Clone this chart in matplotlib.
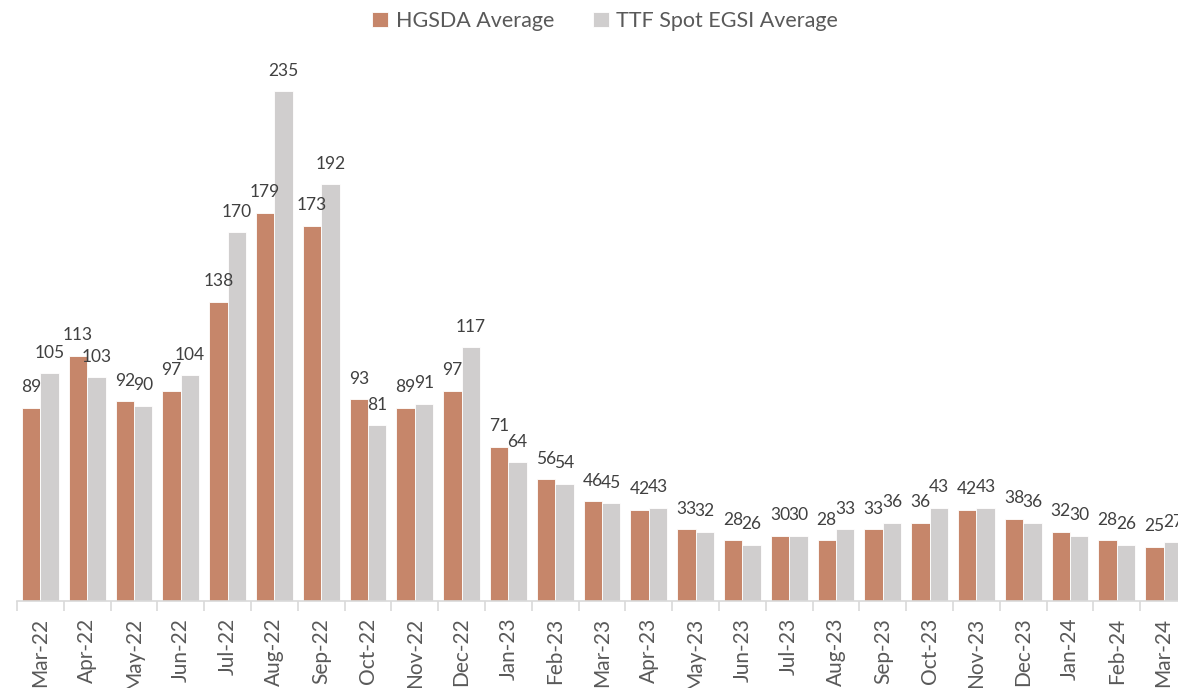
import numpy as np
import matplotlib
matplotlib.use("Agg")
import matplotlib.pyplot as plt

plt.rcParams['font.family'] = ['Lato', 'DejaVu Sans']

# データ
months = ['Mar-22', 'Apr-22', 'May-22', 'Jun-22', 'Jul-22', 'Aug-22', 'Sep-22',
          'Oct-22', 'Nov-22', 'Dec-22', 'Jan-23', 'Feb-23', 'Mar-23', 'Apr-23',
          'May-23', 'Jun-23', 'Jul-23', 'Aug-23', 'Sep-23', 'Oct-23', 'Nov-23',
          'Dec-23', 'Jan-24', 'Feb-24', 'Mar-24']
hgsda = [89, 113, 92, 97, 138, 179, 173, 93, 89, 97, 71, 56, 46, 42,
         33, 28, 30, 28, 33, 36, 42, 38, 32, 28, 25]
ttf = [105, 103, 90, 104, 170, 235, 192, 81, 91, 117, 64, 54, 45, 43,
       32, 26, 30, 33, 36, 43, 43, 36, 30, 26, 27]

c_hg = '#C6866A'
c_ttf = '#D0CECE'
txt = '#404040'

W, H = 1178, 688
fig = plt.figure(figsize=(W / 100, H / 100), dpi=100)
# 軸は右端で少し切れている
left, right, bottom, top = 17, 1187, 601, 40
ax = fig.add_axes([left / W, (H - bottom) / H, (right - left) / W, (bottom - top) / H])

x = np.arange(len(months))
w = 0.395
b1 = ax.bar(x - w / 2, hgsda, w, color=c_hg, edgecolor='white', linewidth=0.6, label='HGSDA Average')
b2 = ax.bar(x + w / 2, ttf, w, color=c_ttf, edgecolor='white', linewidth=0.6, label='TTF Spot EGSI Average')

for bars, vals in ((b1, hgsda), (b2, ttf)):
    for r, v in zip(bars, vals):
        ax.annotate(str(v), (r.get_x() + r.get_width() / 2, v), xytext=(0, 9),
                    textcoords='offset points', ha='center', va='bottom',
                    fontsize=12.5, color=txt)

ax.set_xlim(-0.5, len(months) - 0.5)
ax.set_ylim(0, (bottom - top) / 2.17)

for s in ['top', 'right', 'left']:
    ax.spines[s].set_visible(False)
ax.spines['bottom'].set_color('#D9D9D9')
ax.spines['bottom'].set_linewidth(1.2)
ax.set_yticks([])

# 区切りの目盛りとラベル
ax.set_xticks(np.arange(len(months) + 1) - 0.5)
ax.set_xticklabels([])
ax.tick_params(axis='x', which='major', length=7, width=1.2, color='#D9D9D9')
ax.set_xticks(x, minor=True)
ax.set_xticklabels(months, minor=True, rotation=90, fontsize=15, color='#595959')
ax.tick_params(axis='x', which='minor', length=0, pad=12)

fig.legend(handles=[b1, b2], loc='center', bbox_to_anchor=(605 / W, 1 - 21 / H),
           ncol=2, frameon=False, fontsize=15.5, labelcolor='#595959',
           handlelength=0.75, handleheight=0.75, handletextpad=0.35, columnspacing=1.8)

fig.savefig('out.png', dpi=100)
